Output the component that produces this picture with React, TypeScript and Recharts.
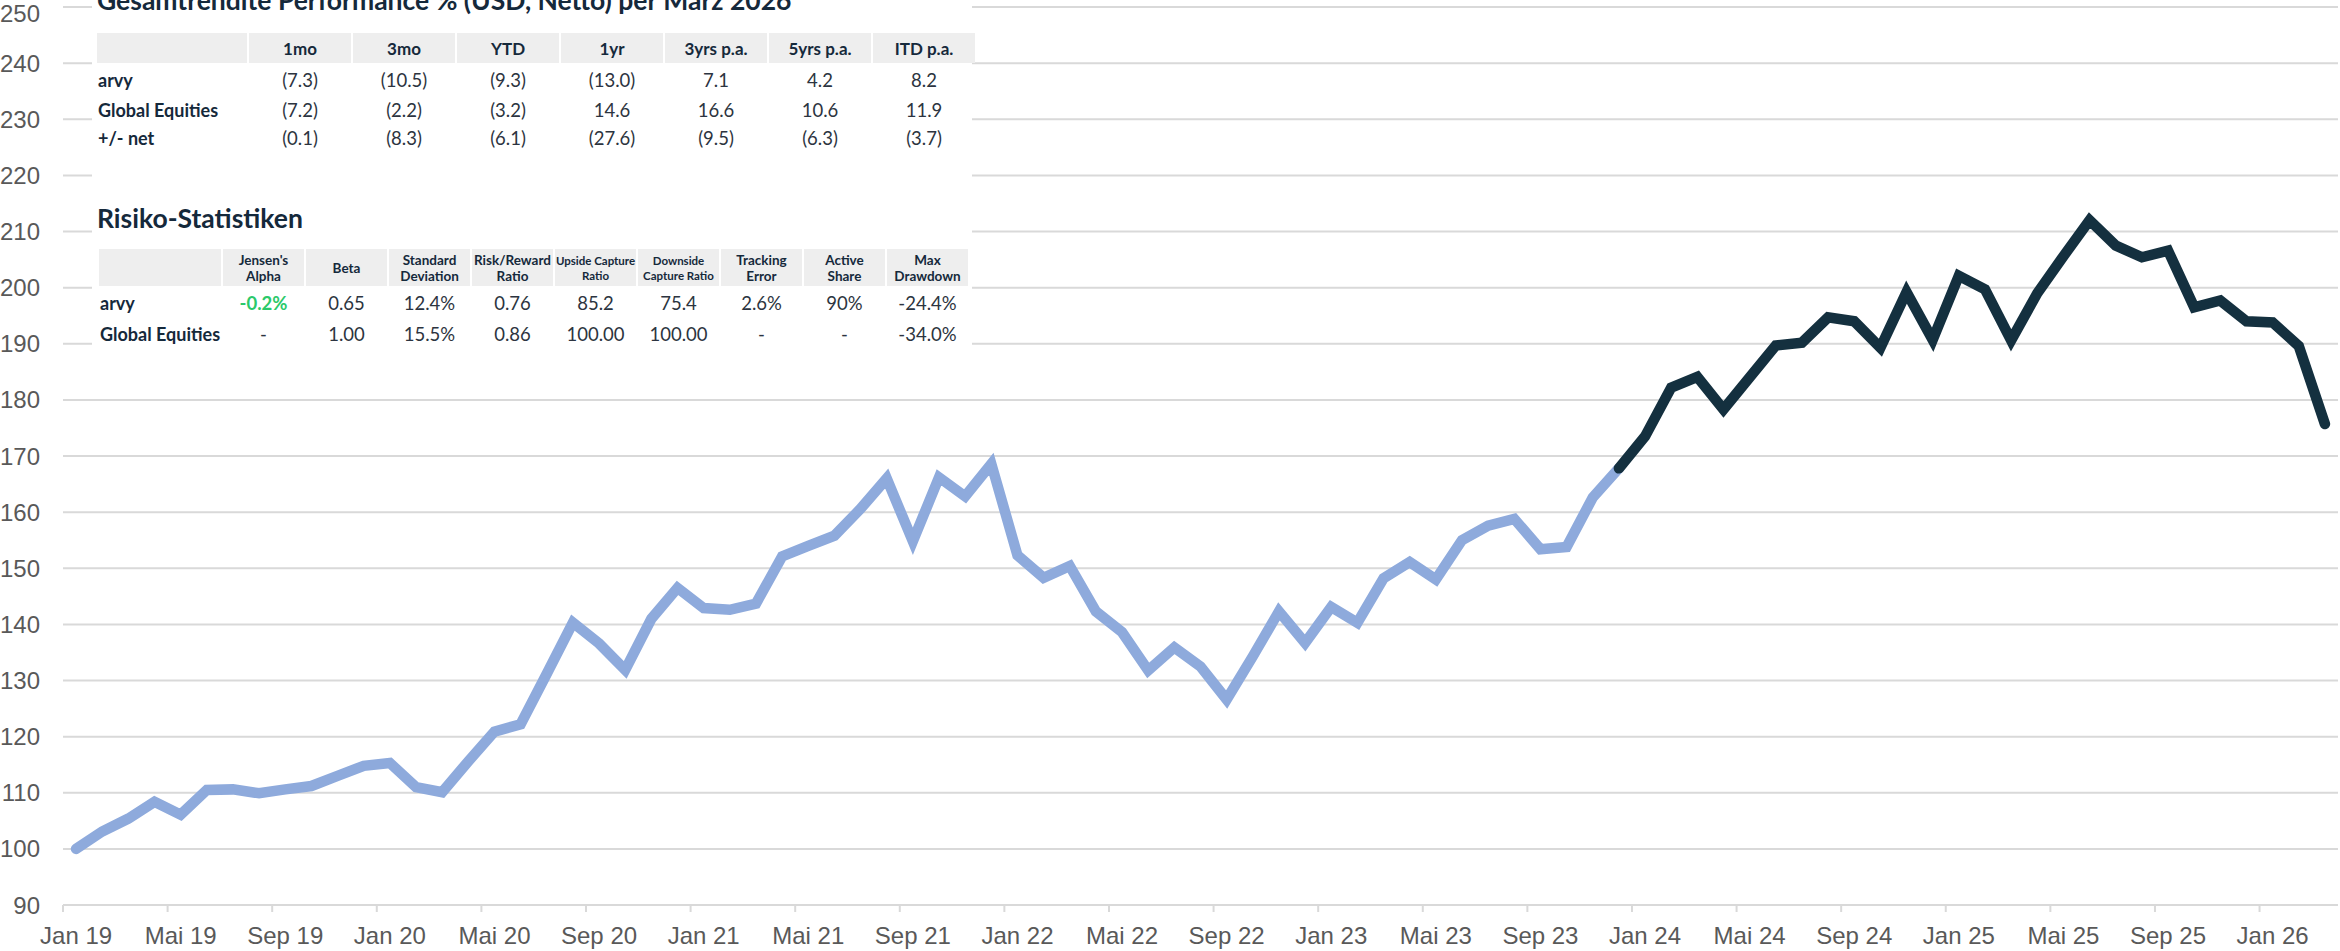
import React from 'react';
import { LineChart, Line, XAxis, YAxis, CartesianGrid } from 'recharts';

const monthNames = ['Jan', 'Feb', 'Mär', 'Apr', 'Mai', 'Jun', 'Jul', 'Aug', 'Sep', 'Okt', 'Nov', 'Dez'];
const years = ['19', '20', '21', '22', '23', '24', '25', '26'];
const monthsInLastYear = 3; // bis März 2026

// Jan 19 .. Dez 23 (hellblau)
const historyValues = [
  100.0, 103.1, 105.4, 108.4, 106.1, 110.5, 110.6, 109.9, 110.6, 111.2, 113.0, 114.8,
  115.3, 111.0, 110.1, 115.6, 120.9, 122.2, 131.2, 140.3, 136.6, 131.9, 141.0, 146.5,
  142.9, 142.6, 143.7, 152.1, 154.0, 155.8, 160.6, 166.0, 154.8, 166.2, 162.8, 168.6,
  152.3, 148.3, 150.4, 142.3, 138.6, 131.8, 135.9, 132.5, 126.6, 134.3, 142.3, 136.7,
  143.1, 140.3, 148.2, 151.1, 148.0, 155.0, 157.6, 158.8, 153.4, 153.8, 162.6, 167.8,
];

// Dez 23 .. Mär 26 (dunkel)
const recentValues = [
  167.8, 173.5, 182.2, 184.1, 178.3, 184.0, 189.7, 190.2, 194.7, 194.0, 189.3, 199.2,
  190.7, 202.1, 199.7, 190.6, 199.0, 205.6, 212.0, 207.5, 205.4, 206.6, 196.5, 197.7,
  194.0, 193.8, 189.6, 175.7,
];

const yTicks = [90, 100, 110, 120, 130, 140, 150, 160, 170, 180, 190, 200, 210, 220, 230, 240, 250];

const perfColumns = ['1mo', '3mo', 'YTD', '1yr', '3yrs p.a.', '5yrs p.a.', 'ITD p.a.'];
const arvyPerf = ['(7.3)', '(10.5)', '(9.3)', '(13.0)', '7.1', '4.2', '8.2'];
const equitiesPerf = ['(7.2)', '(2.2)', '(3.2)', '14.6', '16.6', '10.6', '11.9'];
const netPerf = ['(0.1)', '(8.3)', '(6.1)', '(27.6)', '(9.5)', '(6.3)', '(3.7)'];

const riskColumns = [
  ["Jensen's", 'Alpha'],
  ['Beta'],
  ['Standard', 'Deviation'],
  ['Risk/Reward', 'Ratio'],
  ['Upside Capture', 'Ratio'],
  ['Downside', 'Capture Ratio'],
  ['Tracking', 'Error'],
  ['Active', 'Share'],
  ['Max', 'Drawdown'],
];
const arvyRisk = ['-0.2%', '0.65', '12.4%', '0.76', '85.2', '75.4', '2.6%', '90%', '-24.4%'];
const equitiesRisk = ['-', '1.00', '15.5%', '0.86', '100.00', '100.00', '-', '-', '-34.0%'];

const categories = years.flatMap((yr, yi) =>
  monthNames
    .slice(0, yi === years.length - 1 ? monthsInLastYear : 12)
    .map(m => `${m} ${yr}`)
);

const data = categories.map((month, i) => ({
  month,
  history: i < historyValues.length ? historyValues[i] : null,
  recent: i >= historyValues.length - 1 ? recentValues[i - (historyValues.length - 1)] : null,
}));

const navy = '#15293b';
const axisFont = "'Liberation Sans Narrow', 'Liberation Sans', sans-serif";
const tableFont = "Lato, 'Open Sans', sans-serif";
const halfBand = 13.07;

const XTick = (props: any) => {
  const { x, y, payload } = props;
  return (
    <g>
      <line x1={x - halfBand} x2={x - halfBand} y1={y - 8} y2={y - 1} stroke="#d9d9d9" strokeWidth={2} />
      <text x={x} y={y + 31} textAnchor="middle" fill="#595959" fontSize={24} fontFamily={axisFont}>
        {payload.value}
      </text>
    </g>
  );
};

const headerCell: React.CSSProperties = {
  background: '#eeeeee',
  display: 'flex',
  alignItems: 'center',
  justifyContent: 'center',
  textAlign: 'center',
  fontWeight: 700,
  color: navy,
};

const labelCell: React.CSSProperties = {
  display: 'flex',
  alignItems: 'center',
  paddingLeft: 1,
  fontWeight: 700,
  fontSize: 18,
  color: navy,
  whiteSpace: 'nowrap',
};

const valueCell: React.CSSProperties = {
  display: 'flex',
  alignItems: 'center',
  justifyContent: 'center',
  fontSize: 18.5,
  color: '#2c3440',
};

const App: React.FC = () => {
  const perfRows = [
    { label: 'arvy', values: arvyPerf },
    { label: 'Global Equities', values: equitiesPerf },
    { label: '+/- net', values: netPerf },
  ];
  const riskRows = [
    { label: 'arvy', values: arvyRisk },
    { label: 'Global Equities', values: equitiesRisk },
  ];

  return (
    <div style={{ position: 'absolute', top: 0, left: 0, width: 2340, height: 951, overflow: 'hidden', background: '#fff' }}>
      <LineChart width={2340} height={951} data={data} margin={{ top: 7, right: 2, bottom: 0, left: 0 }}>
        <CartesianGrid vertical={false} stroke="#d9d9d9" strokeWidth={2} />
        <XAxis
          dataKey="month"
          interval={3}
          height={46}
          padding={{ left: halfBand, right: halfBand }}
          axisLine={{ stroke: '#d9d9d9', strokeWidth: 2 }}
          tickLine={false}
          tick={<XTick />}
        />
        <YAxis
          domain={[90, 250]}
          ticks={yTicks}
          width={63}
          axisLine={false}
          tickLine={false}
          tickMargin={17}
          tick={{ fill: '#595959', fontSize: 24, fontFamily: axisFont }}
        />
        <Line
          dataKey="history"
          type="linear"
          stroke="#8eaadc"
          strokeWidth={10.5}
          strokeLinecap="round"
          dot={false}
          activeDot={false}
          isAnimationActive={false}
        />
        <Line
          dataKey="recent"
          type="linear"
          stroke="#14303f"
          strokeWidth={10.5}
          strokeLinecap="round"
          dot={false}
          activeDot={false}
          isAnimationActive={false}
        />
      </LineChart>

      <div style={{ position: 'absolute', left: 92, top: 0, width: 880, height: 360, background: '#fff', fontFamily: tableFont }}>
        <div style={{ position: 'absolute', left: 5, top: -13, fontSize: 26.5, lineHeight: '26.5px', fontWeight: 700, color: navy, whiteSpace: 'nowrap' }}>
          Gesamtrendite Performance % (USD, Netto) per März 2026
        </div>

        <div
          style={{
            position: 'absolute',
            left: 5,
            top: 33,
            display: 'grid',
            gridTemplateColumns: '150px repeat(7, 102px)',
            gridTemplateRows: '30px 34px 26px 30px',
            columnGap: 2,
            rowGap: 0,
          }}
        >
          <div style={headerCell} />
          {perfColumns.map(c => (
            <div key={c} style={{ ...headerCell, fontSize: 17 }}>{c}</div>
          ))}
          {perfRows.map(row => (
            <React.Fragment key={row.label}>
              <div style={labelCell}>{row.label}</div>
              {row.values.map((v, i) => (
                <div key={i} style={valueCell}>{v}</div>
              ))}
            </React.Fragment>
          ))}
        </div>

        <div style={{ position: 'absolute', left: 5, top: 205, fontSize: 26.5, lineHeight: '26.5px', fontWeight: 700, color: navy, whiteSpace: 'nowrap' }}>
          Risiko-Statistiken
        </div>

        <div
          style={{
            position: 'absolute',
            left: 7,
            top: 249,
            display: 'grid',
            gridTemplateColumns: '122px repeat(9, 81px)',
            gridTemplateRows: '37px 30px 28px',
            columnGap: 2,
            rowGap: 2,
          }}
        >
          <div style={headerCell} />
          {riskColumns.map((lines, ci) => (
            <div
              key={ci}
              style={{
                ...headerCell,
                flexDirection: 'column',
                fontSize: ci === 4 || ci === 5 ? 11.5 : 13.5,
                lineHeight: ci === 4 || ci === 5 ? '15px' : '16px',
              }}
            >
              {lines.map(l => (
                <div key={l} style={{ whiteSpace: 'nowrap' }}>{l}</div>
              ))}
            </div>
          ))}
          {riskRows.map(row => (
            <React.Fragment key={row.label}>
              <div style={labelCell}>{row.label}</div>
              {row.values.map((v, i) => (
                <div
                  key={i}
                  style={
                    v === '-0.2%'
                      ? { ...valueCell, color: '#2bc96a', fontWeight: 700 }
                      : valueCell
                  }
                >
                  {v}
                </div>
              ))}
            </React.Fragment>
          ))}
        </div>
      </div>
    </div>
  );
};

export default App;
